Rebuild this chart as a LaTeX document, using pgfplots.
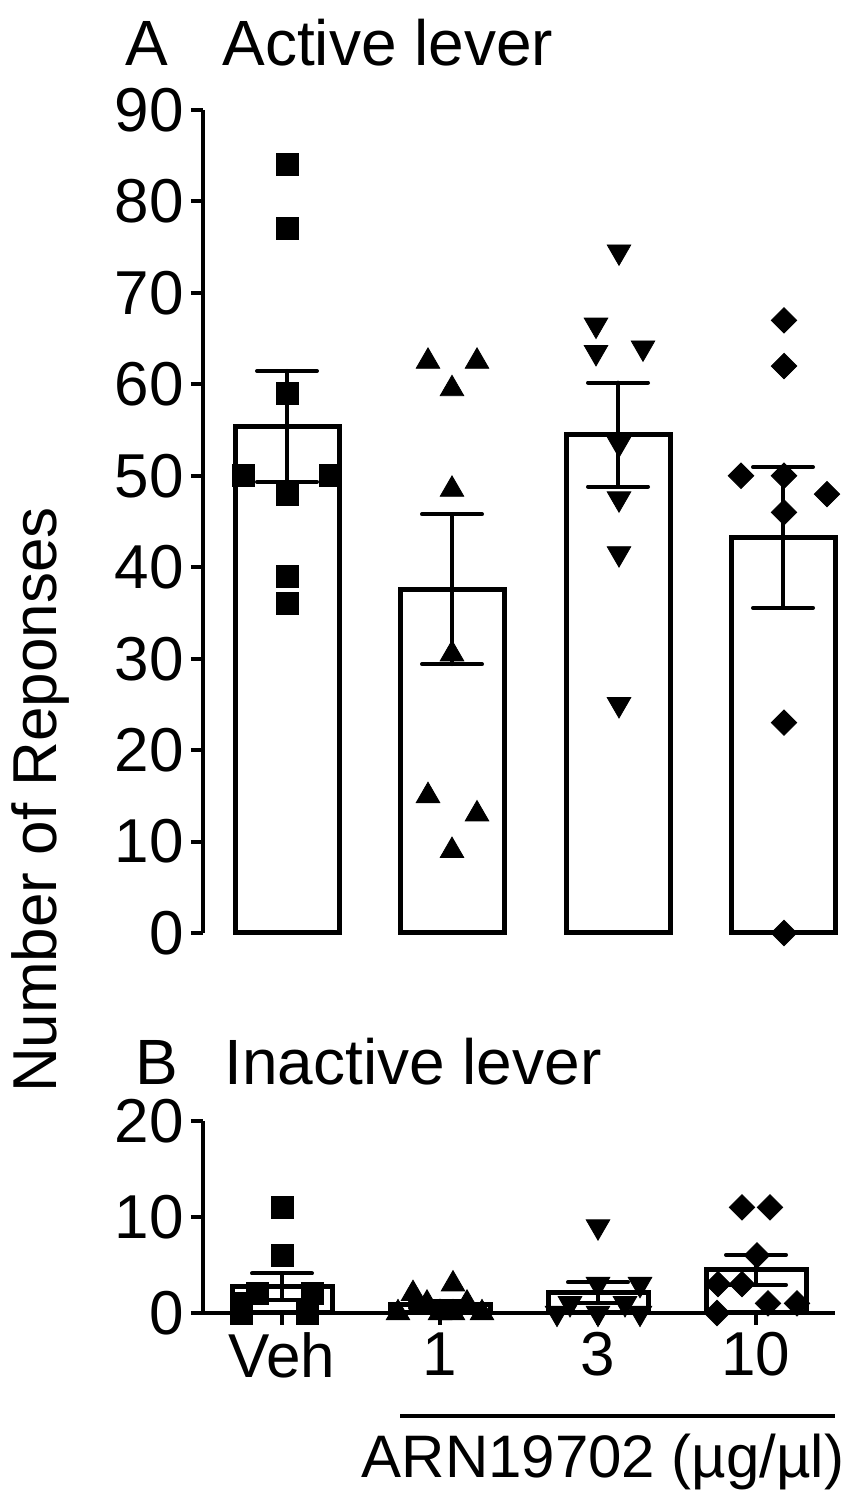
\documentclass[border=0pt]{standalone}
\usepackage{fontspec}
\setmainfont{Liberation Sans}
\usepackage{pgfplots}
\pgfplotsset{compat=1.18}
\begin{document}
\begin{tikzpicture}[x=0.5pt,y=0.5pt]
\path[use as bounding box] (0,0) rectangle (863,1500);
\pgfplotsset{
  common/.style={
    scale only axis, clip=false,
    axis line style={line width=2pt,-},
    tick style={line width=2pt,black},
    major tick length=6pt,
    tick align=outside,
    ticklabel style={font=\fontsize{31}{36}\selectfont, inner sep=3.5pt},
    /pgf/number format/assume math mode=true,
  },
  bars/.style={ybar, draw=black, fill=white, line width=2.5pt},
  errs/.style={draw=none, mark=none, forget plot,
    error bars/.cd, y dir=both, y explicit,
    error bar style={line width=2pt,black,line cap=round},
    error mark options={rotate=90,line width=2pt,black,mark size=15pt,line cap=round}},
  sq/.style={only marks, mark=square*, mark size=5.5pt, black, mark options={fill=black}},
  tri/.style={only marks, mark=triangle*, mark size=6.8pt, black, mark options={fill=black}},
  dtri/.style={only marks, mark=triangle*, mark size=6.8pt, black, mark options={fill=black, rotate=180}},
  dia/.style={only marks, mark=square*, mark size=4.5pt, black, mark options={fill=black, rotate=45}},
}
% Panel A  (x = pixel position - 203)
\begin{axis}[common,
  at={(101.5pt,283.5pt)}, anchor=origin,
  width=328.5pt, height=411.5pt,
  xmin=0, xmax=657, ymin=0, ymax=90,
  axis x line=none, axis y line*=left,
  ytick={0,10,...,90},
]
\addplot[bars, bar width=104] coordinates {(84,55.4) (249,37.6) (415,54.5) (580,43.25)};
\addplot[errs] coordinates {(84,55.4) +- (0,6.06) (249,37.6) +- (0,8.2) (415,54.5) +- (0,5.68) (580,43.25) +- (0,7.7)};
\addplot[sq] coordinates {(84,84) (84,77) (84,59) (40,50) (127,50) (84,48) (84,39) (84,36)};
\addplot[tri] coordinates {(225,62.5) (274,62.5) (249,59.5) (249,48.5) (249,30.5) (225,15) (274,13) (249,9)};
\addplot[dtri] coordinates {(416,74.5) (393,66.5) (393,63.5) (440,64) (416,53.5) (416,47.5) (416,41.5) (416,25)};
\addplot[dia] coordinates {(581,67) (581,62) (538,50) (581,50) (624,48) (581,46) (581,23) (581,0)};
\end{axis}
% Panel B  (x = pixel position - 203)
\begin{axis}[common,
  at={(101.5pt,93.5pt)}, anchor=origin,
  width=316pt, height=96pt,
  xmin=0, xmax=632, ymin=0, ymax=20,
  axis x line*=bottom, axis y line*=left,
  ytick={0,10,20},
  xtick={79,237,395,553}, xticklabels={Veh,1,3,10},
]
\addplot[bars, bar width=100] coordinates {(79,2.75) (237,0.875) (395,2.125) (553,4.5)};
\addplot[errs] coordinates {(79,2.75) +- (0,1.37) (237,0.875) +- (0,0.4) (395,2.125) +- (0,1.08) (553,4.5) +- (0,1.56)};
\addplot[sq] coordinates {(79,11) (79,6) (54,2) (109,2) (38,1) (38,0) (104,0) (104,0)};
\addplot[tri] coordinates {(250,3) (210,2) (224,1) (264,1) (195,0) (250,0) (279,0) (237,0)};
\addplot[dtri] coordinates {(395,9) (395,3) (437,3) (367,1) (422,1) (354,0) (395,0) (437,0)};
\addplot[dia] coordinates {(539,11) (567,11) (554,6) (515,3) (539,3) (565,1) (594,1) (514,0)};
\end{axis}
\node[font=\fontsize{32}{38}\selectfont, inner sep=0pt] at (147,1457) {A};
\node[font=\fontsize{32}{38}\selectfont, anchor=west, inner sep=0pt] at (222,1457) {Active lever};
\node[font=\fontsize{32}{38}\selectfont, inner sep=0pt] at (157,438) {B};
\node[font=\fontsize{32}{38}\selectfont, anchor=west, inner sep=0pt] at (224,438) {Inactive lever};
\node[font=\fontsize{31}{36}\selectfont, rotate=90] at (40,700) {Number of Reponses};
\draw[line width=2pt] (400,84) -- (835,84);
\node[font=\fontsize{30}{36}\selectfont] at (603,38) {ARN19702 (µg/µl)};
\end{tikzpicture}
\end{document}
